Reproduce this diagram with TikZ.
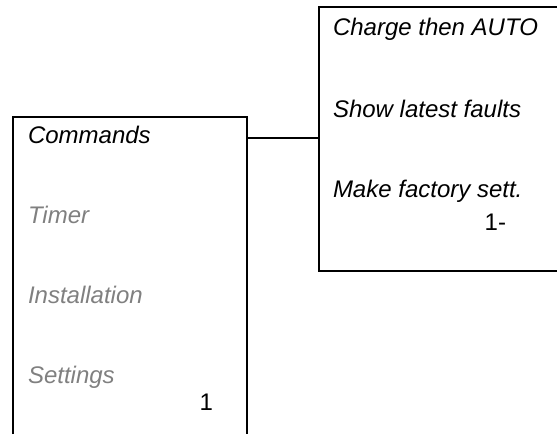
\documentclass[tikz,border=0pt]{standalone}
\usepackage{fontspec}
\setmainfont{Liberation Sans}
\definecolor{menugray}{RGB}{128,128,128}
\tikzset{
  item/.style={anchor=base west, inner sep=0pt, font=\fontsize{24}{28}\selectfont\itshape},
  olditem/.style={item, text=menugray},
  pagenum/.style={anchor=base east, inner sep=0pt, font=\fontsize{24}{28}\selectfont}
}
\begin{document}
\begin{tikzpicture}[x=1pt, y=-1pt, line width=2pt]
  \useasboundingbox (0,0) rectangle (557,434);
  % left menu, open at the bottom
  \coordinate (lbl) at (13,434);
  \coordinate (ltl) at (13,117);
  \coordinate (ltr) at (247,117);
  \coordinate (lbr) at (247,434);
  \draw (lbl) -- (ltl) -- (ltr) -- (lbr);
  \node[item] (cmd) at (27,143) {Commands};
  \node[olditem] (timer) at (27,223) {Timer};
  \node[olditem] (inst) at (27,303) {Installation};
  \node[olditem] (sett) at (27,383) {Settings};
  \node[pagenum] (lnum) at (214,410) {1};
  % right menu, open at the right
  \coordinate (rtr) at (557,7);
  \coordinate (rtl) at (319,7);
  \coordinate (rbl) at (319,271);
  \coordinate (rbr) at (557,271);
  \draw (rtr) -- (rtl) -- (rbl) -- (rbr);
  \node[item] (charge) at (332,35) {Charge then AUTO};
  \node[item] (faults) at (332,117) {Show latest faults};
  \node[item] (factory) at (332,197) {Make factory sett.};
  \node[pagenum] (rnum) at (507,230) {1-};
  % link between the menus
  \coordinate (lout) at (247,138);
  \coordinate (rin) at (319,138);
  \draw (lout) -- (rin);
\end{tikzpicture}
\end{document}
